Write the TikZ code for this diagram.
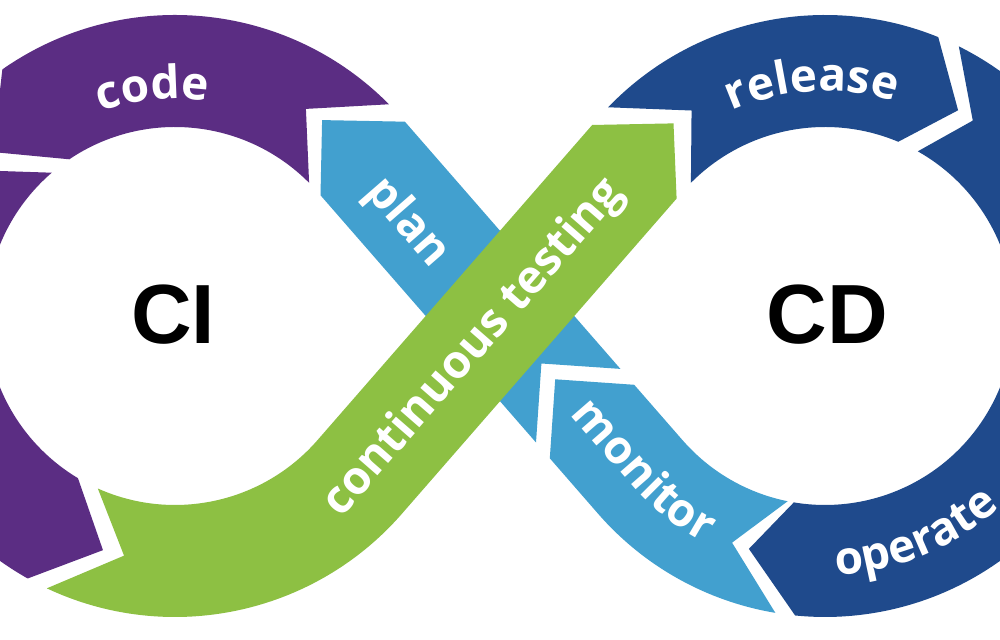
\documentclass[tikz,border=0pt]{standalone}
\usepackage{fontspec}
\newfontfamily\labfont{Open Sans}
\newfontfamily\cifont{Liberation Sans}
\usetikzlibrary{decorations.text}
\definecolor{cpurple}{HTML}{5B2D83}
\definecolor{clight}{HTML}{42A0CF}
\definecolor{cgreen}{HTML}{8DC043}
\definecolor{cdark}{HTML}{1F4A8C}
\newcommand\labstyle{\labfont\bfseries\fontsize{23}{23}\selectfont\color{white}}
\begin{document}
\begin{tikzpicture}[x=0.5pt,y=0.5pt,
  bigtext/.style={font=\cifont\bfseries\fontsize{42}{42}\selectfont, text=black, inner sep=0pt},
  bandtext/.style={font=\labfont\bfseries\fontsize{23}{23}\selectfont, text=white, inner sep=0pt}]
\useasboundingbox (0,0) rectangle (1000,640);
\clip (0,0) rectangle (1000,640);
\fill[white] (0,0) rectangle (1000,640);
\coordinate (CL) at (175,324);
\coordinate (CR) at (825,324);

% plan (under green)
\fill[clight] (620.4,271.1) -- (404.9,518.3) -- (322.1,519.9) -- (320.5,444.7) -- (536.0,197.5) -- (541.4,276.5) -- cycle;

% code
\fill[cpurple] ([shift={(CL)}]44.7:301) arc[start angle=44.7, end angle=125, radius=301]
  -- ([shift={(CL)}]138:245) -- ([shift={(CL)}]124:189)
  arc[start angle=124, end angle=44.8, radius=189] -- ([shift={(CL)}]57.7:245) -- cycle;

% purple lower-left
\fill[cpurple] ([shift={(CL)}]131:301) arc[start angle=131, end angle=240.7, radius=301]
  -- ([shift={(CL)}]252.9:245) -- ([shift={(CL)}]239.1:189)
  arc[start angle=239.1, end angle=130.7, radius=189] -- ([shift={(CL)}]143.5:245) -- cycle;

% continuous testing
\fill[cgreen] ([shift={(CL)}]244.8:301) arc[start angle=244.8, end angle=318.93, radius=301]
  -- (676.6,441.4) -- (673.5,516.6) -- (592.2,515.0) -- ([shift={(CL)}]318.93:189)
  arc[start angle=318.93, end angle=245.9, radius=189] -- ([shift={(CL)}]258:245) -- cycle;

% release
\fill[cdark] ([shift={(CR)}]136.1:301) arc[start angle=136.1, end angle=67.9, radius=301]
  -- ([shift={(CR)}]57.1:245) -- ([shift={(CR)}]67.2:189)
  arc[start angle=67.2, end angle=135.2, radius=189] -- ([shift={(CR)}]123:245) -- cycle;

% right piece
\fill[cdark] ([shift={(CR)}]63.6:301) arc[start angle=63.6, end angle=5, radius=301]
  -- ([shift={(CR)}]-8:245) -- ([shift={(CR)}]5:189)
  arc[start angle=5, end angle=60.6, radius=189] -- ([shift={(CR)}]52.9:245) -- cycle;

% operate
\fill[cdark] ([shift={(CR)}]0:301) arc[start angle=0, end angle=-95.7, radius=301]
  -- ([shift={(CR)}]-108.1:245) -- ([shift={(CR)}]-99.5:189)
  arc[start angle=-99.5, end angle=0, radius=189] -- ([shift={(CR)}]-13:245) -- cycle;

% monitor
\fill[clight] ([shift={(CR)}]-99.5:301) arc[start angle=-99.5, end angle=-138.93, radius=301]
  -- (549.8,181.7) -- (555.2,260.7) -- (634.2,255.2) -- ([shift={(CR)}]-138.93:189)
  arc[start angle=-138.93, end angle=-101.4, radius=189] -- ([shift={(CR)}]-112.3:245) -- cycle;

% labels
\node[bigtext] (ci) at (173,325) {CI};
\node[bigtext] (cd) at (827.5,325) {CD};
\node[bandtext, rotate=-48.93] (plan) at (407,417) {plan};
\node[bandtext, rotate=48.93] (ct) at (474,292) {continuous testing};

\path[decorate, decoration={text along path, text={|\labstyle|code}, text align=center}]
  ([shift={(CL)}]125.6:217) arc[start angle=125.6, end angle=65.6, radius=217];
\path[decorate, decoration={text along path, text={|\labstyle|release}, text align=center}]
  ([shift={(CR)}]133.2:225) arc[start angle=133.2, end angle=53.2, radius=225];
\path[decorate, decoration={text along path, text={|\labstyle|operate}, text align=center}]
  ([shift={(CR)}]-107.5:259) arc[start angle=-107.5, end angle=-27.5, radius=259];
\path[decorate, decoration={text along path, text={|\labstyle|monitor}, text align=center}]
  (552.5,245.6) -- (631.3,155.1) arc[start angle=221.07, end angle=247.8, radius=257];
\end{tikzpicture}
\end{document}
